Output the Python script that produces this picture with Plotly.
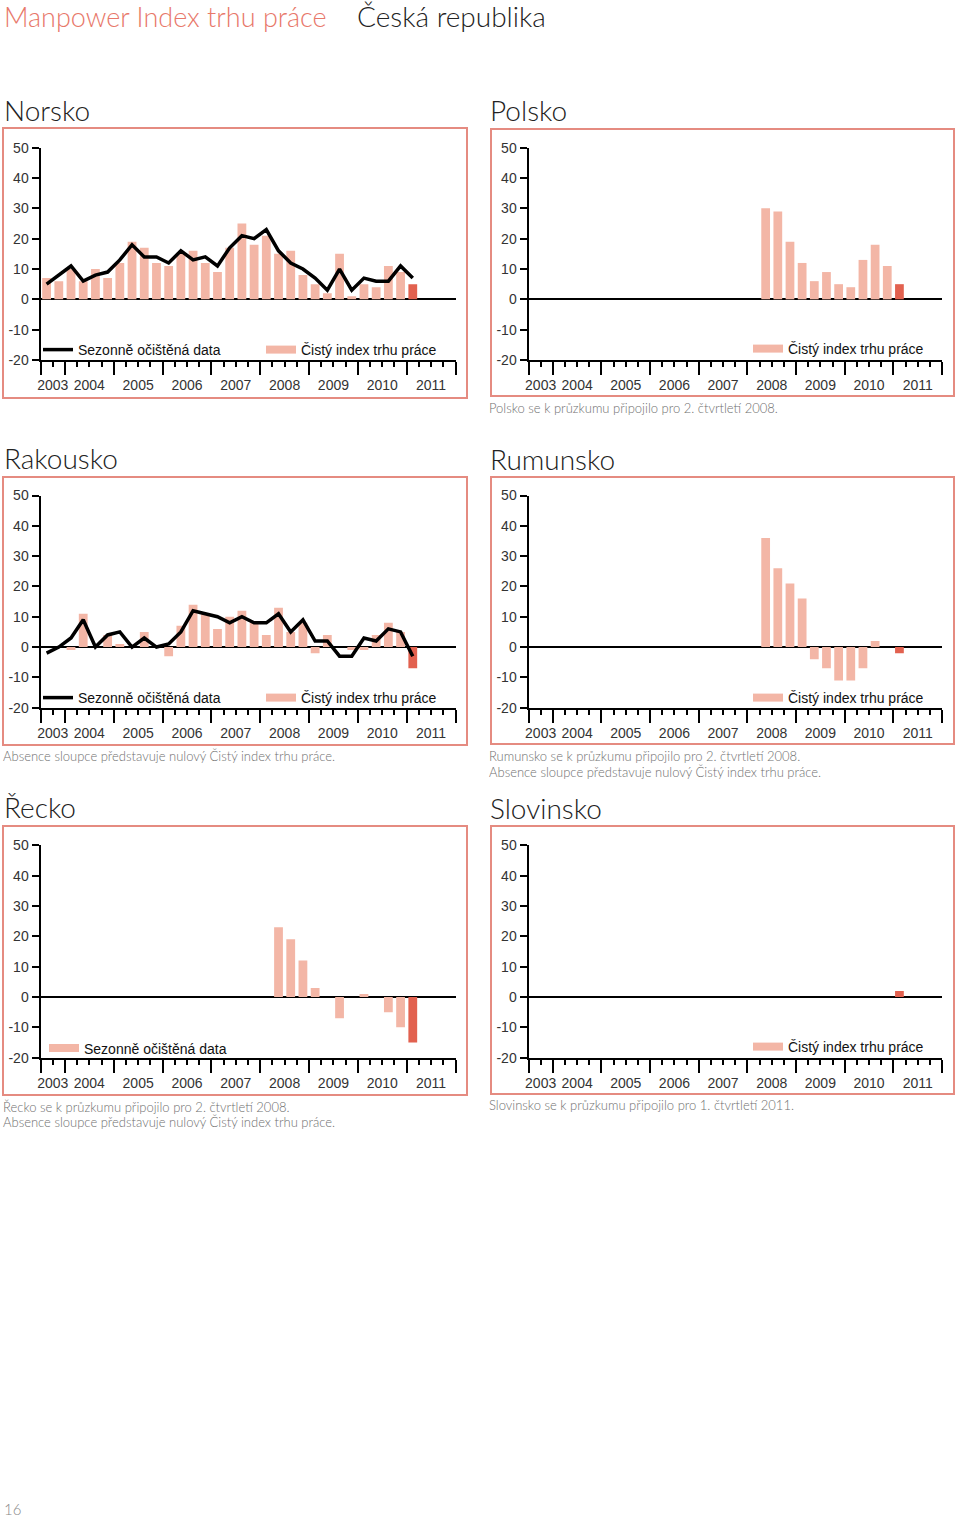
import plotly.graph_objects as go

W, H = 960, 1517

# ---------------- data ----------------
YEARS = ["2003", "2004", "2005", "2006", "2007", "2008", "2009", "2010", "2011"]
QUARTERS_SHOWN = [2, 4, 4, 4, 4, 4, 4, 4, 4]          # 2003 starts with Q3
FIRST_QUARTER = [3, 1, 1, 1, 1, 1, 1, 1, 1]

NORSKO_START = "2003 Q3"
NORSKO_NET = [7, 6, 10, 6, 10, 7, 12, 19, 17, 12, 11, 15, 16, 12, 9, 17, 25, 18, 21, 15,
              16, 8, 5, 2, 15, 1, 5, 4, 11, 9, 5]
NORSKO_SA = [5, 8, 11, 6, 8, 9, 13, 18, 14, 14, 12, 16, 13, 14, 11, 17, 21, 20, 23, 16,
             12, 10, 7, 3, 10, 3, 7, 6, 6, 11, 7]

POLSKO_START = "2008 Q2"
POLSKO_NET = [30, 29, 19, 12, 6, 9, 5, 4, 13, 18, 11, 5]

RAKOUSKO_START = "2003 Q3"
RAKOUSKO_NET = [0, 0, -1, 11, 0, 4, 1, 0, 5, 0, -3, 7, 14, 11, 6, 10, 12, 8, 4, 13,
                5, 8, -2, 4, 0, -1, -1, 4, 8, 5, -7]
RAKOUSKO_SA = [-2, 0, 3, 9, 0, 4, 5, 0, 3, 0, 1, 5, 12, 11, 10, 8, 10, 8, 8, 11,
               5, 9, 2, 2, -3, -3, 3, 2, 6, 5, -3]

RUMUNSKO_START = "2008 Q2"
RUMUNSKO_NET = [36, 26, 21, 16, -4, -7, -11, -11, -7, 2, 0, -2]

RECKO_START = "2008 Q2"
RECKO_NET = [23, 19, 12, 3, 0, -7, 0, 1, 0, -5, -10, -15]

SLOVINSKO_START = "2011 Q1"
SLOVINSKO_NET = [2]

Y_TICKS = [-20, -10, 0, 10, 20, 30, 40, 50]

LBL_SA = "Sezonně očištěná data"
LBL_NET = "Čistý index trhu práce"

# ---------------- styles ----------------
PINK = "#f3b6a6"
RED = "#e2614f"
BOX = "#e58b81"
FONT = "Liberation Sans"
TITLE_FONT = "Lato"

QUARTERS = []
for y, n, q0 in zip(YEARS, QUARTERS_SHOWN, FIRST_QUARTER):
    for q in range(q0, q0 + n):
        QUARTERS.append(f"{y} Q{q}")
NQ = len(QUARTERS)
pos = {q: i for i, q in enumerate(QUARTERS)}

year_bounds = [-0.5]
for n in QUARTERS_SHOWN:
    year_bounds.append(year_bounds[-1] + n)
year_centers = [(a + b) / 2 for a, b in zip(year_bounds[:-1], year_bounds[1:])]


def px(x):
    return x / W


def py(y):
    return 1 - y / H


COL_X = [(40.5, 455.5), (528.5, 942.0)]
ROW_Y = [(147.7, 360.0), (495.5, 707.7), (845.3, 1057.7)]

panels = [
    dict(title="Norsko", col=0, row=0, start=NORSKO_START, net=NORSKO_NET, sa=NORSKO_SA,
         leg=[("line", LBL_SA), ("bar", LBL_NET)], legx=38, legy=350,
         box=(3, 128, 467, 398), ttl=(2, 110), notes=[]),
    dict(title="Polsko", col=1, row=0, start=POLSKO_START, net=POLSKO_NET, sa=None,
         leg=[("bar", LBL_NET)], legx=748, legy=349,
         box=(491, 129, 954, 396), ttl=(488, 110),
         notes=[(487, 408, "Polsko se k průzkumu připojilo pro 2. čtvrtletí 2008.")]),
    dict(title="Rakousko", col=0, row=1, start=RAKOUSKO_START, net=RAKOUSKO_NET, sa=RAKOUSKO_SA,
         leg=[("line", LBL_SA), ("bar", LBL_NET)], legx=38, legy=698,
         box=(3, 477, 467, 745), ttl=(2, 458),
         notes=[(1, 756, "Absence sloupce představuje nulový Čistý index trhu práce.")]),
    dict(title="Rumunsko", col=1, row=1, start=RUMUNSKO_START, net=RUMUNSKO_NET, sa=None,
         leg=[("bar", LBL_NET)], legx=748, legy=698,
         box=(491, 477, 954, 744), ttl=(488, 459),
         notes=[(487, 756, "Rumunsko se k průzkumu připojilo pro 2. čtvrtletí 2008."),
                (487, 772, "Absence sloupce představuje nulový Čistý index trhu práce.")]),
    dict(title="Řecko", col=0, row=2, start=RECKO_START, net=RECKO_NET, sa=None,
         leg=[("bar", LBL_SA)], legx=44, legy=1048.5,
         box=(3, 826, 467, 1095), ttl=(2, 807),
         notes=[(1, 1107, "Řecko se k průzkumu připojilo pro 2. čtvrtletí 2008."),
                (1, 1122, "Absence sloupce představuje nulový Čistý index trhu práce.")]),
    dict(title="Slovinsko", col=1, row=2, start=SLOVINSKO_START, net=SLOVINSKO_NET, sa=None,
         leg=[("bar", LBL_NET)], legx=748, legy=1047,
         box=(491, 826, 954, 1094), ttl=(488, 808),
         notes=[(487, 1105, "Slovinsko se k průzkumu připojilo pro 1. čtvrtletí 2011.")]),
]

fig = go.Figure()
layout = dict(
    width=W, height=H, margin=dict(l=0, r=0, t=0, b=0, pad=0, autoexpand=False),
    paper_bgcolor="white", plot_bgcolor="white", showlegend=True,
    font=dict(family=FONT, color="#222"),
    shapes=[], annotations=[],
)

for i, p in enumerate(panels, start=1):
    xa = "x" if i == 1 else f"x{i}"
    ya = "y" if i == 1 else f"y{i}"
    xl = f"x{i + 6}"
    leg_id = "legend" if i == 1 else f"legend{i}"
    x0, x1 = COL_X[p["col"]]
    y0, y1 = ROW_Y[p["row"]]
    s = pos[p["start"]]
    xs = list(range(s, s + len(p["net"])))
    colors = [RED if QUARTERS[x] == "2011 Q1" else PINK for x in xs]

    fig.add_trace(go.Bar(x=xs, y=p["net"], marker=dict(color=colors, line=dict(width=0)),
                         width=0.72, xaxis=xa, yaxis=ya, showlegend=False, hoverinfo="skip"))
    for kind, label in p["leg"]:
        if kind == "line":
            fig.add_trace(go.Scatter(x=xs, y=p["sa"], mode="lines", name=label,
                                     line=dict(color="black", width=3.5),
                                     xaxis=xa, yaxis=ya, legend=leg_id, hoverinfo="skip"))
        else:
            fig.add_trace(go.Scatter(x=[None], y=[None], mode="lines", name=label,
                                     line=dict(color=PINK, width=8),
                                     xaxis=xa, yaxis=ya, legend=leg_id, hoverinfo="skip"))
    fig.add_trace(go.Scatter(x=[None], y=[None], xaxis=xl, yaxis=ya, showlegend=False,
                             hoverinfo="skip"))

    xkey = "xaxis" if i == 1 else f"xaxis{i}"
    ykey = "yaxis" if i == 1 else f"yaxis{i}"
    layout[xkey] = dict(
        domain=[px(x0), px(x1)], anchor=ya, range=[-0.5, NQ - 0.5],
        showgrid=False, zeroline=False, showline=True, linecolor="black", linewidth=2,
        tickmode="array", tickvals=year_bounds, showticklabels=False,
        ticks="outside", ticklen=13, tickwidth=2, tickcolor="black",
        minor=dict(tickmode="array", tickvals=[b - 0.5 for b in range(NQ + 1)],
                   ticks="outside", ticklen=5, tickwidth=1.5, tickcolor="black"),
        fixedrange=True,
    )
    layout[f"xaxis{i + 6}"] = dict(
        overlaying=xa, anchor=ya, range=[-0.5, NQ - 0.5], side="bottom",
        showgrid=False, zeroline=False, showline=False, ticks="",
        tickmode="array", tickvals=year_centers, ticktext=YEARS,
        tickfont=dict(size=14, color="#333", family=FONT), ticklabelstandoff=15,
        fixedrange=True,
    )
    layout[ykey] = dict(
        domain=[py(y1), py(y0)], anchor=xa, range=[-20, 50],
        showgrid=False, zeroline=True, zerolinecolor="black", zerolinewidth=1.8,
        showline=True, linecolor="black", linewidth=2,
        tickmode="array", tickvals=Y_TICKS, ticktext=[str(v) for v in Y_TICKS],
        ticks="outside", ticklen=7, tickwidth=1.5,
        tickcolor="black", tickfont=dict(size=14, color="#333", family=FONT),
        fixedrange=True,
    )
    leg = dict(
        orientation="h", x=px(p["legx"]), y=py(p["legy"]), xanchor="left", yanchor="middle",
        bgcolor="rgba(0,0,0,0)", font=dict(size=14, color="#111", family=FONT),
        itemwidth=30, traceorder="normal", itemclick=False, itemdoubleclick=False,
    )
    if len(p["leg"]) > 1:
        leg.update(entrywidth=178, entrywidthmode="pixels")
    layout[leg_id] = leg
    bx0, by0, bx1, by1 = p["box"]
    layout["shapes"].append(dict(type="rect", xref="paper", yref="paper",
                                 x0=px(bx0), x1=px(bx1), y0=py(by1), y1=py(by0),
                                 line=dict(color=BOX, width=2), layer="below"))
    tx, ty = p["ttl"]
    layout["annotations"].append(dict(text=p["title"], x=px(tx), y=py(ty), xref="paper",
                                      yref="paper", xanchor="left", yanchor="middle",
                                      showarrow=False,
                                      font=dict(size=28, color="#222", family=TITLE_FONT,
                                                weight=300)))
    for nx, ny, nt in p["notes"]:
        layout["annotations"].append(dict(text=nt, x=px(nx), y=py(ny), xref="paper",
                                          yref="paper", xanchor="left", yanchor="middle",
                                          showarrow=False,
                                          font=dict(size=13, color="#707070", family=TITLE_FONT,
                                                    weight=300)))

layout["annotations"].append(dict(text="Manpower Index trhu práce", x=px(2), y=py(16),
                                  xref="paper", yref="paper", xanchor="left", yanchor="middle",
                                  showarrow=False,
                                  font=dict(size=27, color="#e8786a", family=TITLE_FONT, weight=300)))
layout["annotations"].append(dict(text="Česká republika", x=px(355), y=py(16),
                                  xref="paper", yref="paper", xanchor="left", yanchor="middle",
                                  showarrow=False,
                                  font=dict(size=28, color="#222", family=TITLE_FONT, weight=300)))
layout["annotations"].append(dict(text="16", x=px(2), y=py(1509),
                                  xref="paper", yref="paper", xanchor="left", yanchor="middle",
                                  showarrow=False,
                                  font=dict(size=15, color="#888", family=TITLE_FONT, weight=300)))

fig.update_layout(**layout)
fig.write_html("out.html",
               post_script="document.body.style.margin='0';document.body.style.overflow='hidden';")
